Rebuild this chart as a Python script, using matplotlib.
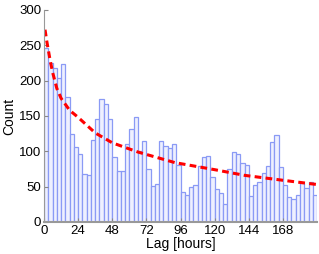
import numpy as np
import matplotlib.pyplot as plt

plt.rcParams['font.family'] = ['Liberation Sans', 'DejaVu Sans']

# Histogram of lags, 3-hour bins from 0 to 192 hours
bin_width = 3
counts = [246, 225, 218, 204, 223, 177, 125, 106, 96, 68, 66, 116, 146, 174, 167, 146,
          92, 72, 72, 110, 132, 149, 101, 114, 75, 51, 54, 114, 108, 104, 111, 80,
          42, 38, 50, 52, 79, 92, 93, 64, 47, 41, 25, 75, 99, 96, 83, 80,
          37, 52, 57, 69, 79, 113, 123, 78, 52, 35, 32, 38, 55, 48, 56, 38]
bin_left = np.arange(len(counts)) * bin_width

# Fitted decay curve
fit_hr = [0.7, 2, 4, 6, 9, 12, 18, 24, 36, 48, 66, 92, 120, 141, 168, 192]
fit_cnt = [272, 255, 232, 212, 189, 175, 158, 148, 126, 112, 99, 84, 74, 66, 59, 53]

xticks = [0, 24, 48, 72, 96, 120, 144, 168]
yticks = [0, 50, 100, 150, 200, 250, 300]

fig = plt.figure(figsize=(3.19, 2.54), dpi=100)
ax = fig.add_axes([0.138, 0.126, 0.856, 0.835])

ax.bar(bin_left, counts, width=bin_width, align='edge',
       facecolor='#eef0ff', edgecolor='#8a9af5', linewidth=0.9)
ax.plot(fit_hr, fit_cnt, color='red', linestyle='--', linewidth=2.2, dashes=(2.2, 1.4))

ax.set_xlim(0, 192)
ax.set_ylim(0, 300)
ax.set_xticks(xticks)
ax.set_yticks(yticks)
ax.tick_params(direction='in', length=3, color='#888888', labelsize=9.5, pad=2)
ax.spines['top'].set_visible(False)
ax.spines['right'].set_visible(False)
ax.spines['left'].set_color('#999999')
ax.spines['bottom'].set_color('#999999')
ax.spines['bottom'].set_linewidth(1.5)

ax.set_xlabel('Lag [hours]', fontsize=10, labelpad=0)
ax.set_ylabel('Count', fontsize=10)
ax.yaxis.set_label_coords(-0.1, 0.5)

fig.savefig('out.png', dpi=100)
